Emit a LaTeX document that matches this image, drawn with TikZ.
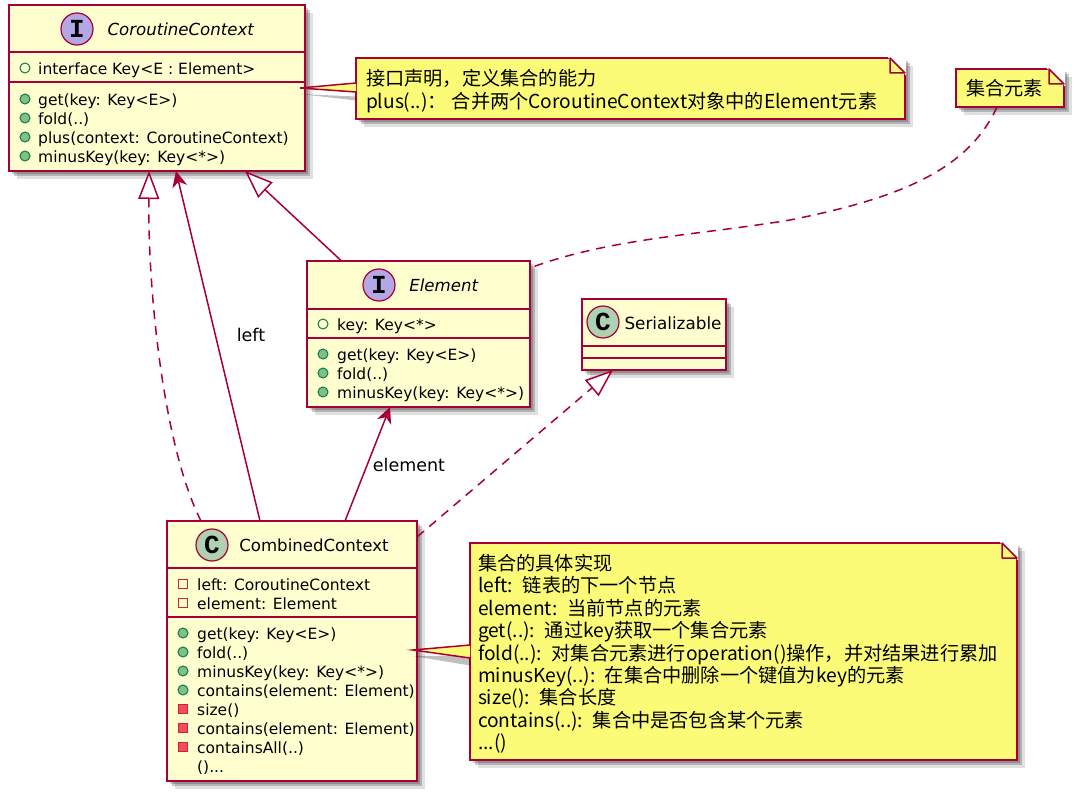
\documentclass[tikz,border=0pt]{standalone}
\usepackage{fontspec}
\usepackage{xcolor}
\setmainfont{DejaVu Sans}
\newfontfamily\cjk{Noto Sans CJK SC}
\newfontfamily\spotfont{Liberation Mono}
\usetikzlibrary{shapes,arrows.meta,positioning,calc,shadows}

\definecolor{umlline}{HTML}{A80036}
\definecolor{umlfill}{HTML}{FEFECE}
\definecolor{umlnote}{HTML}{FBFB77}
\definecolor{spotI}{HTML}{B4A7E5}
\definecolor{spotC}{HTML}{ADD1B2}
\definecolor{publine}{HTML}{038048}
\definecolor{pubfill}{HTML}{84BE84}
\definecolor{privline}{HTML}{C82930}
\definecolor{privfill}{HTML}{F24D5C}

% folded corner of a note
\newcommand{\notefold}[1]{
  \filldraw [white, line width=2pt] ([xshift=-15pt]#1.north east) -- (#1.north east) -- ([yshift=-15pt]#1.north east) -- cycle;
  \draw [foldline] ([xshift=-15pt]#1.north east) -- ([xshift=-15pt,yshift=-15pt]#1.north east) -- ([yshift=-15pt]#1.north east) -- cycle;
}

\begin{document}
\begin{tikzpicture}[
    x=1pt, y=-1pt,
    softshadow/.style={
      drop shadow={shadow xshift=3pt, shadow yshift=-3pt, fill=black, opacity=0.2},
      drop shadow={shadow xshift=5pt, shadow yshift=-5pt, fill=black, opacity=0.2},
      drop shadow={shadow xshift=8pt, shadow yshift=-8pt, fill=black, opacity=0.12}},
    classbox/.style={rectangle, draw=umlline, fill=umlfill, line width=1.8pt, inner sep=0pt, outer sep=0pt, softshadow},
    notebox/.style={rectangle, draw=umlline, fill=umlnote, line width=1.5pt, inner sep=0pt, outer sep=0pt, align=left, softshadow, font=\cjk\fontsize{19.2}{22.4}\selectfont, execute at begin node={\spaceskip=0.16em\relax}},
    foldline/.style={draw=umlline, fill=umlnote, line width=1.5pt, line join=round},
    divider/.style={draw=umlline, line width=1.8pt},
    spot/.style={circle, draw=umlline, line width=1.2pt, minimum size=32pt, inner sep=0pt, font=\spotfont\bfseries\fontsize{26}{26}\selectfont},
    title/.style={font=\fontsize{16.6}{20}\selectfont, inner sep=0pt},
    members/.style={anchor=north west, align=left, inner sep=0pt, font=\fontsize{15.5}{19}\selectfont},
    pubfield/.style={circle, draw=publine, line width=1pt, minimum size=10pt, inner sep=0pt},
    pubmethod/.style={circle, draw=publine, fill=pubfill, line width=1pt, minimum size=10pt, inner sep=0pt},
    privfield/.style={rectangle, draw=privline, line width=1pt, minimum size=9pt, inner sep=0pt},
    privmethod/.style={rectangle, draw=privline, fill=privfill, line width=1pt, minimum size=9pt, inner sep=0pt},
    edgelabel/.style={font=\fontsize{17.5}{20}\selectfont, inner sep=0pt},
    link/.style={draw=umlline, line width=1.5pt},
    dashlink/.style={link, dash pattern=on 9pt off 7pt},
    hollow/.style={-{Triangle[open, fill=white, length=28pt, width=21pt, line width=1.5pt]}},
    barbed/.style={-{Stealth[length=16pt, width=15pt, inset=5pt]}}
]
\useasboundingbox (0,0) rectangle (1080,800);

% CoroutineContext
\node [classbox, minimum width=296pt, minimum height=166pt] at (157,88) (context) {};
\draw [divider] ([yshift=-47pt]context.north west) -- ([yshift=-47pt]context.north east);
\draw [divider] ([yshift=-77pt]context.north west) -- ([yshift=-77pt]context.north east);
\node [spot, fill=spotI] at (77,29) (contextspot) {I};
\node [title] at (181,29) (contexttitle) {\textit{CoroutineContext}};
\node [members] at (38,62.5) (contextfields) {interface Key<E : Element>};
\node [members] at (38,93.5) (contextmethods) {get(key: Key<E>)\\fold(..)\\plus(context: CoroutineContext)\\minusKey(key: Key<*>)};
\node [pubfield] at (25,68) (ci1) {};
\node [pubmethod] at (25,99) (ci2) {};
\node [pubmethod] at (25,118) (ci3) {};
\node [pubmethod] at (25,137) (ci4) {};
\node [pubmethod] at (25,156) (ci5) {};

% Element
\node [classbox, minimum width=223pt, minimum height=146pt] at (418.5,334) (element) {};
\draw [divider] ([yshift=-48pt]element.north west) -- ([yshift=-48pt]element.north east);
\draw [divider] ([yshift=-77pt]element.north west) -- ([yshift=-77pt]element.north east);
\node [spot, fill=spotI] at (379,285) (elementspot) {I};
\node [title] at (444,285) (elementtitle) {\textit{Element}};
\node [members] at (337,318.5) (elementfields) {key: Key<*>};
\node [members] at (337,348.5) (elementmethods) {get(key: Key<E>)\\fold(..)\\minusKey(key: Key<*>)};
\node [pubfield] at (323,324) (ei1) {};
\node [pubmethod] at (323,354) (ei2) {};
\node [pubmethod] at (323,373) (ei3) {};
\node [pubmethod] at (323,392) (ei4) {};

% Serializable
\node [classbox, minimum width=144pt, minimum height=71pt] at (654,334.5) (serial) {};
\draw [divider] ([yshift=-47pt]serial.north west) -- ([yshift=-47pt]serial.north east);
\draw [divider] ([yshift=-59pt]serial.north west) -- ([yshift=-59pt]serial.north east);
\node [spot, fill=spotC] at (603,322) (serialspot) {C};
\node [title, font=\fontsize{16.8}{20}\selectfont] at (673,323) (serialtitle) {Serializable};

% CombinedContext
\node [classbox, minimum width=250pt, minimum height=260pt] at (292,651) (combined) {};
\draw [divider] ([yshift=-47pt]combined.north west) -- ([yshift=-47pt]combined.north east);
\draw [divider] ([yshift=-96pt]combined.north west) -- ([yshift=-96pt]combined.north east);
\node [spot, fill=spotC] at (212,545) (combinedspot) {C};
\node [title] at (314,545) (combinedtitle) {CombinedContext};
\node [members] at (197,578.5) (combinedfields) {left: CoroutineContext\\element: Element};
\node [members] at (197,627.5) (combinedmethods) {get(key: Key<E>)\\fold(..)\\minusKey(key: Key<*>)\\contains(element: Element)\\size()\\contains(element: Element)\\containsAll(..)\\()...};
\node [privfield] at (183,584) (mi1) {};
\node [privfield] at (183,603) (mi2) {};
\node [pubmethod] at (183,633) (mi3) {};
\node [pubmethod] at (183,652) (mi4) {};
\node [pubmethod] at (183,671) (mi5) {};
\node [pubmethod] at (183,690) (mi6) {};
\node [privmethod] at (183,709) (mi7) {};
\node [privmethod] at (183,728) (mi8) {};
\node [privmethod] at (183,747) (mi9) {};

% Notes
\node [notebox, minimum width=549pt, minimum height=61pt, text width=529pt] at (630.5,88.5) (contextnote) {\rule{0pt}{21pt}接口声明，定义集合的能力\\plus(..)：\hspace{5pt}合并两个CoroutineContext对象中的Element元素};
\notefold{contextnote}
\node [notebox, minimum width=108pt, minimum height=38pt, text width=88pt] at (1010,88) (elementnote) {集合元素};
\notefold{elementnote}
\node [notebox, minimum width=547pt, minimum height=217pt, text width=531pt] at (743.5,651.5) (combinednote) {\rule{0pt}{21pt}集合的具体实现\\left: 链表的下一个节点\\element: 当前节点的元素\\get(..): 通过key获取一个集合元素\\fold(..): 对集合元素进行operation()操作，并对结果进行累加\\minusKey(..): 在集合中删除一个键值为key的元素\\size(): 集合长度\\contains(..): 集合中是否包含某个元素\\...()};
\notefold{combinednote}

% Note pointers
\coordinate (contexttip) at (300,88);
\fill [black, opacity=0.25] ([yshift=-8pt]contextnote.west) -- ([yshift=-6pt]contexttip) -- ([yshift=-12pt]contextnote.west) -- cycle;
\fill [umlnote] ([yshift=5.5pt]contextnote.west) -- (contexttip) -- ([yshift=-3.5pt]contextnote.west) -- cycle;
\draw [link] ([yshift=5.5pt]contextnote.west) -- (contexttip) -- ([yshift=-3.5pt]contextnote.west);
\coordinate (combinedtip) at (413,650);
\fill [black, opacity=0.25] ([yshift=-4pt]combinednote.west) -- ([yshift=-6pt]combinedtip) -- ([yshift=-14pt]combinednote.west) -- cycle;
\fill [umlnote] ([yshift=6.5pt]combinednote.west) -- (combinedtip) -- ([yshift=-6.5pt]combinednote.west) -- cycle;
\draw [link] ([yshift=6.5pt]combinednote.west) -- (combinedtip) -- ([yshift=-6.5pt]combinednote.west);

% Connections
\draw [dashlink, hollow] ([xshift=-91pt]combined.north) .. controls (165,450) and (148,300) .. ([xshift=-8pt]context.south);
\draw [link, barbed] ([xshift=-32pt]combined.north) -- ([xshift=19pt]context.south);
\draw [link, hollow] ([xshift=-77pt]element.north) -- ([xshift=88pt]context.south);
\draw [link, barbed] ([xshift=53pt]combined.north) -- ([xshift=-28.5pt]element.south);
\draw [dashlink, hollow] ([yshift=-16pt]combined.north east) -- ([xshift=-41pt]serial.south);
\draw [dashlink] ([xshift=-13pt]elementnote.south) .. controls (968,170) and (900,198) .. (790,220) .. controls (700,235) and (610,238) .. ([yshift=-7pt]element.north east);

% Connection labels
\node [edgelabel] at (251,335) (leftlabel) {left};
\node [edgelabel] at (409,465) (elementlabel) {element};

\end{tikzpicture}
\end{document}
